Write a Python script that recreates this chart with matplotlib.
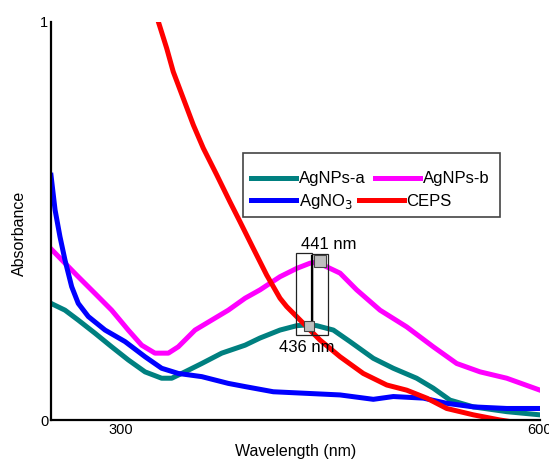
import matplotlib
matplotlib.use('Agg')
import matplotlib.pyplot as plt
from matplotlib.patches import Rectangle
from matplotlib.lines import Line2D

plt.rcParams['font.family'] = ['Liberation Sans', 'DejaVu Sans']

# ---- data ----
wl_a = [250, 260.0, 269.5, 281.5, 293.4, 305.3, 317.3, 329.2, 336.4, 345.9, 357.9, 372.2, 388.9,
        399.6, 413.9, 425.9, 433.0, 440.2, 452.1, 464.0, 480.7, 495.0, 511.7, 523.6, 535.6, 552.3, 576.2, 600]
abs_a = [0.293, 0.276, 0.251, 0.218, 0.184, 0.151, 0.121, 0.105, 0.105, 0.121, 0.142, 0.168, 0.188,
         0.206, 0.226, 0.237, 0.239, 0.237, 0.226, 0.197, 0.155, 0.130, 0.105, 0.080, 0.050, 0.033, 0.021, 0.013]

wl_b = [250, 260.0, 269.5, 281.5, 293.4, 305.3, 314.9, 324.4, 334.0, 341.1, 353.1, 365.0, 376.9, 388.9,
        399.6, 413.9, 425.9, 435.4, 441.0, 444.9, 456.9, 468.8, 485.5, 504.6, 523.6, 540.4, 557.1, 576.2, 600]
abs_b = [0.430, 0.394, 0.360, 0.318, 0.276, 0.226, 0.188, 0.168, 0.168, 0.184, 0.226, 0.251, 0.276, 0.306,
         0.327, 0.360, 0.381, 0.394, 0.397, 0.389, 0.369, 0.327, 0.276, 0.234, 0.184, 0.142, 0.121, 0.105, 0.075]

wl_no3 = [250, 252.9, 256.4, 260.0, 264.8, 269.5, 276.7, 288.7, 303.0, 317.3, 329.2, 341.1, 357.9, 376.9,
          388.9, 409.1, 433.0, 456.9, 480.7, 495.0, 516.5, 533.2, 552.3, 576.2, 600]
abs_no3 = [0.615, 0.528, 0.461, 0.402, 0.335, 0.293, 0.260, 0.226, 0.197, 0.159, 0.130, 0.117, 0.109, 0.092,
           0.084, 0.071, 0.067, 0.063, 0.052, 0.059, 0.055, 0.042, 0.033, 0.029, 0.029]

wl_ceps = [322.0, 326.8, 332.8, 337.5, 344.7, 351.9, 359.0, 368.6, 378.1, 385.3, 394.8, 404.4, 413.9, 418.7,
           430.6, 442.5, 456.9, 473.5, 490.3, 504.6, 518.9, 533.2, 552.3, 571.4, 590.0]
abs_ceps = [1.055, 1.001, 0.934, 0.875, 0.808, 0.741, 0.683, 0.616, 0.548, 0.498, 0.431, 0.364, 0.306, 0.285,
            0.243, 0.201, 0.159, 0.117, 0.088, 0.075, 0.055, 0.029, 0.013, 0.0, -0.01]

peak_a = (434.7, 0.237)
peak_b = (442.5, 0.399)

fig = plt.figure(figsize=(5.49, 4.61), dpi=100)
ax = fig.add_axes([0.0929, 0.0889, 0.8907, 0.8634])

lw = 3.6
ax.plot(wl_a, abs_a, color='#008080', lw=lw, solid_joinstyle='round')
ax.plot(wl_b, abs_b, color='#FF00FF', lw=lw, solid_joinstyle='round')
ax.plot(wl_no3, abs_no3, color='#0000FF', lw=lw, solid_joinstyle='round')
ax.plot(wl_ceps, abs_ceps, color='#FF0000', lw=lw, solid_joinstyle='round')

ax.set_xlim(250, 600)
ax.set_ylim(0, 1)
ax.set_xticks([300, 600])
ax.set_yticks([0, 1])
ax.set_xticklabels(['300', '600'])
ax.set_yticklabels(['0', '1'])
ax.tick_params(length=0, labelsize=10.5, pad=2)
for s in ['top', 'right']:
    ax.spines[s].set_visible(False)
for s in ['left', 'bottom']:
    ax.spines[s].set_linewidth(1.6)
ax.set_xlabel('Wavelength (nm)', fontsize=11.5, labelpad=5)
ax.set_ylabel('Absorbance', fontsize=11.5)
ax.yaxis.set_label_coords(-0.049, 0.47)

# peak markers / boxes
ax.add_patch(Rectangle((425.2, 0.214), 11.4, 0.205, fill=False, ec='#222222', lw=0.9, zorder=5))
ax.add_patch(Rectangle((437.0, 0.214), 11.5, 0.202, fill=False, ec='#222222', lw=0.9, zorder=5))
ax.plot([436.6, 436.6], [0.244, 0.412], color='black', lw=1.6, zorder=6)
ax.plot(*peak_a, marker='s', ms=7, mfc='#bfbfbf', mec='#444444', mew=0.8, zorder=7)
ax.plot(*peak_b, marker='s', ms=8, mfc='#bfbfbf', mec='#444444', mew=0.8, zorder=7)
ax.text(449, 0.44, '441 nm', fontsize=12, ha='center', va='center')
ax.text(433, 0.181, '436 nm', fontsize=12, ha='center', va='center')

# legend: framed box with two flowing rows
fig.patches.append(Rectangle((243 / 549, 1 - 217 / 461), 257 / 549, 64 / 461,
                             transform=fig.transFigure, fill=False, ec='#444444', lw=1.2))
row1 = [Line2D([], [], color='#008080', lw=lw), Line2D([], [], color='#FF00FF', lw=lw)]
row2 = [Line2D([], [], color='#0000FF', lw=lw), Line2D([], [], color='#FF0000', lw=lw)]
kw = dict(ncol=2, frameon=False, fontsize=12, handlelength=2.7, handletextpad=0.15,
          borderpad=0, borderaxespad=0, loc='center left')
fig.legend(row1, ['AgNPs-a', 'AgNPs-b'], bbox_to_anchor=(251 / 549, 1 - 179 / 461),
           columnspacing=0.6, **kw)
fig.legend(row2, ['AgNO$_3$', 'CEPS'], bbox_to_anchor=(251 / 549, 1 - 201 / 461),
           columnspacing=0.4, **kw)

fig.savefig('out.png', dpi=100)
